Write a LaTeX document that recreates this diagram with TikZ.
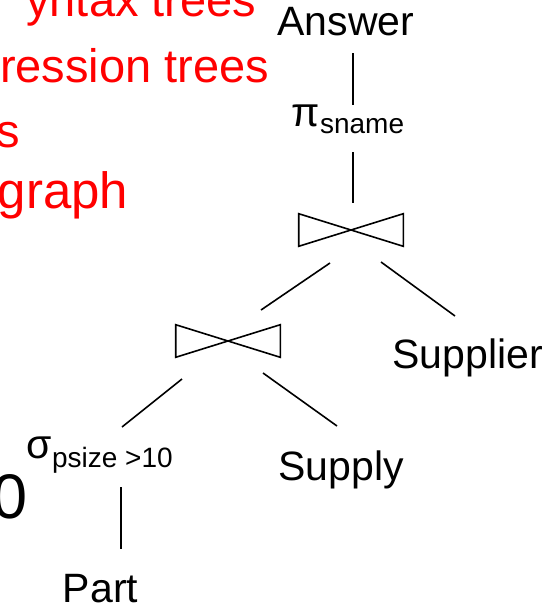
\documentclass[tikz,border=0pt]{standalone}
\usepackage{fontspec}
\setmainfont{Liberation Sans}
\usetikzlibrary{calc}
\definecolor{mNoteRed}{HTML}{FF0000}
\newcommand{\relfont}{\fontsize{41pt}{41pt}\selectfont}
\newcommand{\subfont}{\fontsize{28pt}{28pt}\selectfont}
\newcommand{\notefont}{\fontsize{47pt}{47pt}\selectfont}
\begin{document}
\begin{tikzpicture}[x=1pt, y=-1pt, line width=1.6pt,
  rel/.style={inner sep=0pt, anchor=base, font=\relfont},
  op/.style={inner sep=0pt, anchor=base west, font=\relfont},
  joinbox/.style={inner sep=0pt, minimum width=103pt, minimum height=31pt},
  note/.style={inner sep=0pt, anchor=base east, font=\notefont, text=mNoteRed}]
\useasboundingbox (0,0) rectangle (551,608);
\clip (0,0) rectangle (551,608);
% red notes, cut off at the left
\node[note] (n1) at (257,16) {yntax trees};
\node[note] (n2) at (270,82) {ression trees};
\node[note] (n3) at (21,147) {s};
\node[note, font=\fontsize{51pt}{51pt}\selectfont] (n4) at (129,208) {graph};
\node[font=\fontsize{63pt}{63pt}\selectfont, inner sep=0pt, anchor=base east] (zero) at (28,518) {0};
% query plan
\node[rel] (answer) at (346,35) {Answer};
\node[op] (proj) at (291,126) {π{\subfont\raisebox{-7pt}{sname}}};
\node[joinbox] (join1) at (351,230) {};
\node[joinbox] (join2) at (228,341) {};
\node[rel] (supplier) at (467.5,368) {Supplier};
\node[op] (sel) at (26,458) {σ{\subfont\raisebox{-9pt}{psize >10}}};
\node[rel] (supply) at (341,480) {Supply};
\node[rel] (part) at (100.5,602) {Part};
\foreach \j in {join1,join2}
  \draw (\j.north west) -- (\j.south east) -- (\j.north east) -- (\j.south west) -- cycle;
\draw ([shift={(7,18)}]answer.base) -- ([shift={(62,-21)}]proj.base west);
\draw ([shift={(62,26)}]proj.base west) -- ([shift={(2,-27)}]join1.center);
\draw ([shift={(-21,33)}]join1.center) -- ([shift={(33,-31)}]join2.center);
\draw ([shift={(30,32)}]join1.center) -- ([shift={(-12.5,-52)}]supplier.base);
\draw ([shift={(-46,38)}]join2.center) -- ([shift={(96,-31)}]sel.base west);
\draw ([shift={(35,32)}]join2.center) -- ([shift={(-4,-54)}]supply.base);
\draw ([shift={(95,29)}]sel.base west) -- ([shift={(20.5,-53)}]part.base);
\end{tikzpicture}
\end{document}
